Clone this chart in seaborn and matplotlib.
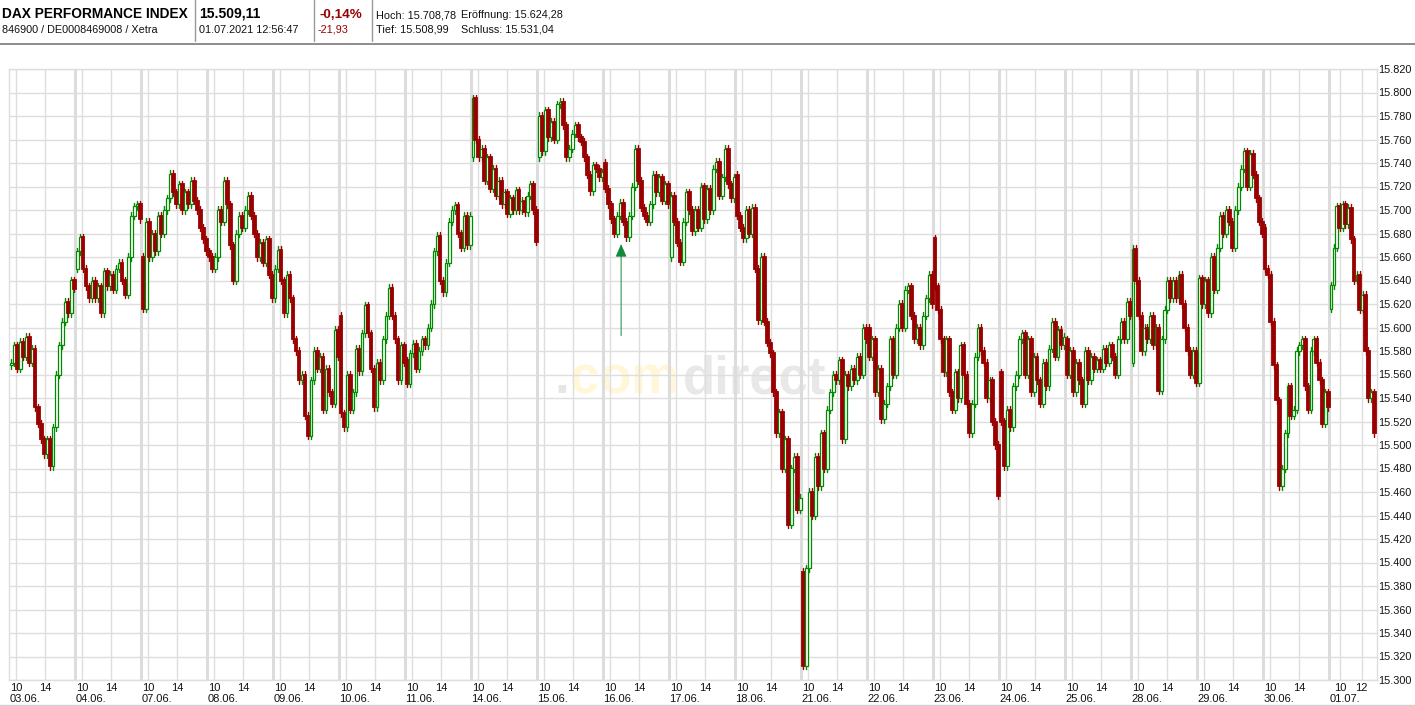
import matplotlib
matplotlib.use("Agg")
import matplotlib.pyplot as plt
import seaborn as sns
import pandas as pd

# --- values, each day starts with its first open ---
day_labels = ["03.06.", "04.06.", "07.06.", "08.06.", "09.06.", "10.06.", "11.06.",
              "14.06.", "15.06.", "16.06.", "17.06.", "18.06.", "21.06.", "22.06.",
              "23.06.", "24.06.", "25.06.", "28.06.", "29.06.", "30.06.", "01.07."]

d00 = [15568, 15570, 15585, 15565, 15588, 15575, 15592, 15570, 15582, 15532, 15518, 15505,
       15492, 15505, 15482, 15515, 15560, 15585, 15605, 15622, 15612, 15640, 15633]
d01 = [15650, 15665, 15677, 15650, 15635, 15625, 15640, 15625, 15635, 15612, 15648, 15635,
       15645, 15632, 15650, 15655, 15640, 15628, 15660, 15695, 15703, 15705, 15692]
d02 = [15660, 15616, 15690, 15660, 15680, 15665, 15695, 15680, 15700, 15710, 15731, 15715,
       15705, 15722, 15700, 15715, 15705, 15725, 15708, 15700, 15685, 15675, 15665]
d03 = [15665, 15660, 15650, 15660, 15700, 15690, 15725, 15705, 15670, 15640, 15680, 15695,
       15685, 15700, 15712, 15695, 15680, 15660, 15672, 15655, 15675, 15645, 15625]
d04 = [15625, 15650, 15666, 15640, 15612, 15645, 15625, 15590, 15580, 15555, 15560, 15525,
       15508, 15555, 15580, 15565, 15575, 15530, 15565, 15545, 15535, 15598, 15575]
d05 = [15610, 15527, 15515, 15560, 15530, 15545, 15582, 15563, 15595, 15619, 15595, 15565,
       15532, 15570, 15555, 15590, 15610, 15634, 15610, 15590, 15555, 15585, 15570]
d06 = [15572, 15552, 15578, 15586, 15565, 15580, 15590, 15585, 15600, 15620, 15665, 15678,
       15640, 15630, 15655, 15690, 15700, 15704, 15680, 15668, 15695, 15670, 15695]
d07 = [15745, 15795, 15760, 15745, 15752, 15725, 15745, 15718, 15735, 15712, 15725, 15705,
       15715, 15697, 15710, 15700, 15717, 15700, 15708, 15698, 15712, 15722, 15700, 15673]
d08 = [15745, 15780, 15750, 15785, 15762, 15775, 15760, 15790, 15792, 15772, 15745, 15752,
       15765, 15772, 15762, 15758, 15745, 15730, 15716, 15738, 15735, 15728, 15732]
d09 = [15740, 15718, 15705, 15692, 15680, 15695, 15706, 15690, 15677, 15695, 15720, 15752,
       15725, 15702, 15695, 15690, 15705, 15730, 15715, 15728, 15708, 15722, 15705]
d10 = [15660, 15712, 15690, 15672, 15656, 15690, 15715, 15700, 15682, 15700, 15685, 15720,
       15692, 15718, 15700, 15735, 15741, 15712, 15728, 15752, 15722, 15710, 15728]
d11 = [15730, 15695, 15685, 15676, 15700, 15680, 15702, 15650, 15606, 15660, 15605, 15587,
       15578, 15545, 15510, 15528, 15480, 15505, 15432, 15480, 15490, 15445, 15455]
d12 = [15392, 15312, 15395, 15460, 15440, 15490, 15465, 15510, 15480, 15530, 15545, 15560,
       15555, 15572, 15505, 15560, 15550, 15565, 15555, 15575, 15560, 15600, 15590]
d13 = [15600, 15575, 15590, 15545, 15565, 15522, 15535, 15550, 15590, 15560, 15600, 15620,
       15600, 15632, 15635, 15610, 15590, 15600, 15585, 15610, 15625, 15645, 15620]
d14 = [15676, 15635, 15615, 15590, 15562, 15590, 15545, 15530, 15562, 15540, 15585, 15560,
       15535, 15510, 15535, 15575, 15600, 15580, 15570, 15540, 15555, 15520, 15500, 15457]
d15 = [15562, 15520, 15482, 15530, 15515, 15550, 15560, 15590, 15595, 15560, 15590, 15545,
       15575, 15555, 15535, 15570, 15550, 15582, 15605, 15575, 15598, 15585, 15592]
d16 = [15590, 15560, 15580, 15545, 15570, 15555, 15535, 15580, 15555, 15575, 15565, 15572,
       15565, 15582, 15570, 15585, 15575, 15560, 15590, 15605, 15590, 15622, 15610]
d17 = [15570, 15667, 15640, 15610, 15580, 15600, 15590, 15610, 15585, 15600, 15546, 15590,
       15615, 15640, 15625, 15640, 15625, 15645, 15620, 15600, 15580, 15560, 15580, 15553]
d18 = [15553, 15642, 15620, 15640, 15612, 15660, 15632, 15668, 15695, 15680, 15700, 15690,
       15668, 15700, 15720, 15735, 15750, 15720, 15748, 15730, 15710, 15690, 15680]
d19 = [15685, 15650, 15645, 15605, 15568, 15538, 15465, 15480, 15510, 15550, 15525, 15530,
       15580, 15585, 15590, 15550, 15530, 15580, 15590, 15570, 15555, 15518, 15545, 15532]
d20 = [15616, 15636, 15668, 15703, 15685, 15705, 15688, 15702, 15675, 15640, 15645, 15615,
       15628, 15580, 15540, 15545, 15510]
days = [d00, d01, d02, d03, d04, d05, d06, d07, d08, d09, d10,
        d11, d12, d13, d14, d15, d16, d17, d18, d19, d20]

y_ticks = list(range(15300, 15821, 20))

W, H = 1415, 706
DAY_PX = 66
LEFT, RIGHT, TOP, BOTTOM = 9.3, 1376.5, 69, 680
RED = "#990000"
GREEN = "#008a00"
GRID = "#dedede"


def fx(px):
    return px / W


def fy(px):
    return 1 - px / H


# candles
rows = []
for i, day in enumerate(days):
    span = 46 / DAY_PX if i == len(days) - 1 else 1
    n = len(day) - 1
    for k in range(n):
        rows.append({"x": i + (k + 0.6) / n * span, "open": day[k], "close": day[k + 1]})
df = pd.DataFrame(rows)
df["up"] = df["close"] >= df["open"]
df["candle"] = df.index

wick = pd.concat([
    df.assign(price=df[["open", "close"]].max(axis=1) + 3),
    df.assign(price=df[["open", "close"]].min(axis=1) - 3),
]).sort_values("candle")

sns.set_theme(style="white")
plt.rcParams["font.family"] = ["Liberation Sans", "DejaVu Sans"]

fig = plt.figure(figsize=(W / 100, H / 100), dpi=100)
ax = fig.add_axes([fx(LEFT - 0.3), fy(BOTTOM), fx(RIGHT - LEFT + 0.3), (BOTTOM - TOP) / H])
ax.set_xlim(-0.3 / DAY_PX, (RIGHT - LEFT) / DAY_PX)
ax.set_ylim(15300, 15820)

# grid
hour_ticks, hour_labels = [], []
for i in range(len(days)):
    last = i == len(days) - 1
    hour_ticks += [i + (10.5 if last else 7) / DAY_PX, i + (32.5 if last else 36) / DAY_PX]
    hour_labels += ["10", "12" if last else "14"]
ax.set_xticks(hour_ticks, hour_labels)
ax.set_yticks(y_ticks, [f"{v:,}".replace(",", ".") for v in y_ticks])
ax.tick_params(axis="x", length=0, pad=2, labelsize=8, labelcolor="#111111")
ax.tick_params(axis="y", length=1, width=0.8, color=GRID, pad=0.5, labelsize=7.8,
               labelcolor="#111111", right=True, left=False, labelright=True, labelleft=False)
ax.grid(True, color=GRID, lw=1.0, zorder=1)
ax.set_axisbelow(True)
for i in range(1, len(days)):
    ax.axvline(i, color="#dcdcdc", lw=2.2, zorder=1.2)
for side in ax.spines.values():
    side.set_color(GRID)
    side.set_linewidth(1.0)

# watermark
ax.text(fx(554), fy(393), ".", transform=fig.transFigure, fontsize=38, fontweight="bold",
        color="#e6e6e6", zorder=0.5, ha="left", va="baseline")
ax.text(fx(570), fy(393), "com", transform=fig.transFigure, fontsize=38, fontweight="bold",
        color="#fff7d8", zorder=0.5, ha="left", va="baseline")
ax.text(fx(683), fy(393), "direct", transform=fig.transFigure, fontsize=38, fontweight="bold",
        color="#e8e8e8", zorder=0.5, ha="left", va="baseline")

# wicks and bodies
sns.lineplot(data=wick, x="x", y="price", hue="up", palette={True: GREEN, False: RED},
             units="candle", estimator=None, sort=False, legend=False, lw=1, ax=ax, zorder=3)
ax.bar(df["x"], (df["close"] - df["open"]).abs(), bottom=df[["open", "close"]].min(axis=1),
       width=2.8 / DAY_PX,
       color=["white" if u else RED for u in df["up"]],
       edgecolor=[GREEN if u else RED for u in df["up"]],
       linewidth=[0.9 if u else 1.3 for u in df["up"]], zorder=4)
ax.set_xlabel("")
ax.set_ylabel("")

# arrow
ax.annotate("", xy=(9.27, 15671), xytext=(9.27, 15593),
            arrowprops=dict(arrowstyle="-|>,head_width=0.28,head_length=0.65", color="#118a3c",
                            lw=0.7, shrinkA=0, shrinkB=0), zorder=5)

# date row
for i, label in enumerate(day_labels):
    fig.text(fx(LEFT + i * DAY_PX), fy(699), label, fontsize=8, color="#111111", ha="left", va="center")

# header
fig.add_artist(plt.Line2D([0, 1], [fy(43.5), fy(43.5)], color="#8c8c8c", lw=1.4))
fig.add_artist(plt.Line2D([0, 1], [fy(705), fy(705)], color="#d0d0d0", lw=1))
for px in (194.5, 313.5, 371.5):
    fig.add_artist(plt.Line2D([fx(px), fx(px)], [fy(0), fy(41)], color="#999999", lw=1))

head = [
    (2, 18, "DAX PERFORMANCE INDEX", 9.9, "bold", "#000000"),
    (2, 33, "846900 / DE0008469008 / Xetra", 7.8, "normal", "#111111"),
    (199, 18, "15.509,11", 10, "bold", "#000000"),
    (199, 33, "01.07.2021 12:56:47", 7.8, "normal", "#111111"),
    (319, 18, "-0,14%", 9.7, "bold", "#990000"),
    (318, 33, "-21,93", 7.8, "normal", "#990000"),
    (376, 18, "Hoch: 15.708,78", 7.8, "normal", "#111111"),
    (461, 18, "Eröffnung: 15.624,28", 7.8, "normal", "#111111"),
    (376, 33, "Tief: 15.508,99", 7.8, "normal", "#111111"),
    (461, 33, "Schluss: 15.531,04", 7.8, "normal", "#111111"),
]
for x, y, txt, size, weight, col in head:
    fig.text(fx(x), fy(y), txt, fontsize=size, fontweight=weight, color=col, ha="left", va="baseline")

fig.savefig("out.png", dpi=100, facecolor="white")
